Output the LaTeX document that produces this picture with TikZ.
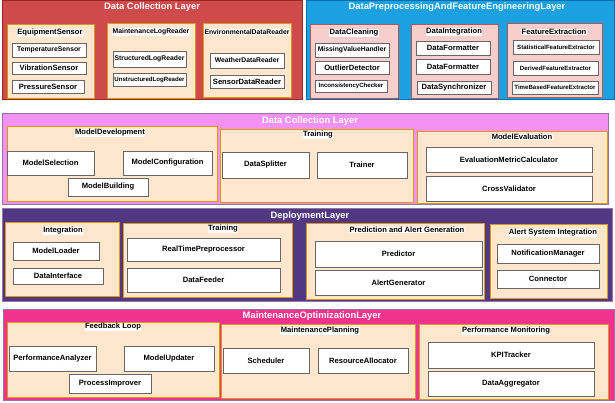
\documentclass[tikz,border=0pt]{standalone}
\usepackage{fontspec}
\setmainfont{Liberation Sans}
\usetikzlibrary{fit}

\definecolor{redfill}{RGB}{207,74,74}
\definecolor{redline}{RGB}{150,40,40}
\definecolor{bluefill}{RGB}{27,161,226}
\definecolor{blueline}{RGB}{0,110,175}
\definecolor{pinkfill}{RGB}{243,146,243}
\definecolor{violetline}{RGB}{150,115,166}
\definecolor{purplefill}{RGB}{82,55,130}
\definecolor{magentafill}{RGB}{240,52,142}
\definecolor{peachfill}{RGB}{255,230,204}
\definecolor{orangeline}{RGB}{215,155,0}
\definecolor{rosefill}{RGB}{248,206,204}
\definecolor{roseline}{RGB}{184,84,80}
\definecolor{boxline}{RGB}{102,102,102}

\tikzset{
  layer/.style={draw, line width=0.8pt, inner sep=0pt},
  layertitle/.style={text=white, inner sep=0pt, font=\bfseries\fontsize{8}{9}\selectfont},
  group/.style={draw=orangeline, fill=peachfill, line width=0.6pt, inner sep=0pt},
  rosegroup/.style={group, draw=roseline, fill=rosefill},
  grouptitle/.style={fill=white, inner sep=0.4pt, font=\bfseries\fontsize{6.5}{7}\selectfont},
  midtitle/.style={grouptitle, font=\bfseries\fontsize{5.8}{6.5}\selectfont},
  boxframe/.style={draw=boxline, fill=white, line width=0.7pt, inner sep=0pt},
  box/.style={boxframe, label={[font=\bfseries\fontsize{6.5}{7.5}\selectfont]center:#1}},
  midbox/.style={boxframe, label={[font=\bfseries\fontsize{5.8}{6.5}\selectfont]center:#1}},
  smallbox/.style={boxframe, label={[font=\bfseries\fontsize{5.2}{6}\selectfont]center:#1}}
}

\begin{document}
\begin{tikzpicture}[x=0.03cm, y=-0.03cm]

    \useasboundingbox (0,0) rectangle (615,403);

    % Layers
    \node[layer, fill=redfill, draw=redline, fit={(2,0.5) (302,99)}] (collect) {};
    \node[layer, fill=bluefill, draw=blueline, fit={(306,0.5) (614.5,99)}] (preprocess) {};
    \node[layer, fill=pinkfill, draw=violetline, fit={(2,113) (608,204)}] (modellayer) {};
    \node[layer, fill=purplefill, draw=violetline, fit={(2,208) (612,301)}] (deploy) {};
    \node[layer, fill=magentafill, draw=violetline, fit={(3,309) (614.5,400)}] (maintain) {};

    % Groups: data collection
    \node[group, fit={(7,24) (94,98)}] (eqsensor) {};
    \node[group, fit={(107,23) (195,98)}] (logreader) {};
    \node[group, fit={(203,23) (291,97)}] (envreader) {};

    % Groups: preprocessing
    \node[rosegroup, fit={(310,24) (398,98)}] (cleaning) {};
    \node[rosegroup, fit={(411,24) (498,98)}] (integration) {};
    \node[rosegroup, fit={(507,23) (602,97)}] (featextract) {};

    % Groups: model
    \node[group, fit={(7,126) (217,201)}] (modeldev) {};
    \node[group, fit={(220,129) (413,202)}] (training) {};
    \node[group, fit={(417,131) (607,203)}] (evaluation) {};

    % Groups: deployment
    \node[group, fit={(5,222) (119,296)}] (integrate) {};
    \node[group, fit={(123,223) (292,297)}] (deploytrain) {};
    \node[group, fit={(306,223) (484,299)}] (prediction) {};
    \node[group, fit={(490,224) (607,298)}] (alertsys) {};

    % Groups: maintenance
    \node[group, fit={(7,322) (219,397)}] (feedback) {};
    \node[group, fit={(221,324) (415,398)}] (planning) {};
    \node[group, fit={(419,324) (608,399)}] (monitoring) {};

    % Boxes
    \node[midbox=TemperatureSensor, fit={(12,43) (86,57)}] (tempsensor) {};
    \node[box=VibrationSensor, fit={(12,62) (86,74)}] (vibsensor) {};
    \node[box=PressureSensor, fit={(12,80) (84,93)}] (presssensor) {};
    \node[midbox=StructuredLogReader, fit={(113,51) (186,67)}] (structlog) {};
    \node[smallbox=UnstructuredLogReader, fit={(113,73) (186,86)}] (unstructlog) {};
    \node[midbox=WeatherDataReader, fit={(210,53) (284,68)}] (weather) {};
    \node[box=SensorDataReader, fit={(210,75) (284,88)}] (sensordata) {};

    \node[midbox=MissingValueHandler, fit={(315,43) (389,57)}] (missing) {};
    \node[box=OutlierDetector, fit={(315,61) (389,74)}] (outlier) {};
    \node[smallbox=InconsistencyChecker, fit={(315,80) (387,92)}] (inconsist) {};
    \node[box=DataFormatter, fit={(416,41) (490,55)}] (formattera) {};
    \node[box=DataFormatter, fit={(416,59) (490,74)}] (formatterb) {};
    \node[box=DataSynchronizer, fit={(417,81) (491,94)}] (synchronizer) {};
    \node[smallbox=StatisticalFeatureExtractor, fit={(513,40) (599,54)}] (statfeat) {};
    \node[smallbox=DerivedFeatureExtractor, fit={(513,61) (598,75)}] (derivedfeat) {};
    \node[smallbox=TimeBasedFeatureExtractor, fit={(512,81) (598,94)}] (timefeat) {};

    \node[box=ModelSelection, fit={(7,151) (94,175)}] (modelsel) {};
    \node[box=ModelConfiguration, fit={(123,151) (212,175)}] (modelconf) {};
    \node[box=ModelBuilding, fit={(68,178) (148,196)}] (modelbuild) {};
    \node[box=DataSplitter, fit={(222,152) (309,178)}] (splitter) {};
    \node[box=Trainer, fit={(317,152) (407,178)}] (trainer) {};
    \node[box=EvaluationMetricCalculator, fit={(426,147) (592,172)}] (metriccalc) {};
    \node[box=CrossValidator, fit={(426,176) (592,201)}] (crossval) {};

    \node[box=ModelLoader, fit={(13,242) (99,260)}] (loader) {};
    \node[box=DataInterface, fit={(13,268) (103,284)}] (datainterface) {};
    \node[box=RealTimePreprocessor, fit={(127,238) (280,261)}] (realtime) {};
    \node[box=DataFeeder, fit={(127,268) (280,292)}] (feeder) {};
    \node[box=Predictor, fit={(315,241) (482,267)}] (predictor) {};
    \node[box=AlertGenerator, fit={(315,270) (482,295)}] (alertgen) {};
    \node[box=NotificationManager, fit={(497,244) (599,263)}] (notify) {};
    \node[box=Connector, fit={(497,270) (599,288)}] (connector) {};

    \node[box=PerformanceAnalyzer, fit={(9,346) (96,371)}] (perfanalyzer) {};
    \node[box=ModelUpdater, fit={(124,346) (214,371)}] (updater) {};
    \node[box=ProcessImprover, fit={(69,374) (151,393)}] (improver) {};
    \node[box=Scheduler, fit={(223,348) (309,373)}] (scheduler) {};
    \node[box=ResourceAllocator, fit={(318,348) (408,373)}] (allocator) {};
    \node[box=KPITracker, fit={(428,342) (594,368)}] (kpi) {};
    \node[box=DataAggregator, fit={(428,371) (594,396)}] (aggregator) {};

    % Titles
    \node[layertitle] (collecttitle) at (152,7) {Data Collection Layer};
    \node[layertitle] (preprocesstitle) at (457,7) {DataPreprocessingAndFeatureEngineeringLayer};
    \node[layertitle] (modeltitle) at (310,121) {Data Collection Layer};
    \node[layertitle] (deploytitle) at (310,216) {DeploymentLayer};
    \node[layertitle] (maintaintitle) at (312,316) {MaintenanceOptimizationLayer};

    \node[grouptitle] (eqtitle) at (50,33) {EquipmentSensor};
    \node[midtitle] (logtitle) at (151,32) {MaintenanceLogReader};
    \node[midtitle] (envtitle) at (247,32) {EnvironmentalDataReader};
    \node[grouptitle] (cleantitle) at (354,33) {DataCleaning};
    \node[grouptitle] (integrationtitle) at (454,32) {DataIntegration};
    \node[grouptitle] (feattitle) at (554,32) {FeatureExtraction};
    \node[grouptitle] (devtitle) at (110,133) {ModelDevelopment};
    \node[grouptitle] (traintitle) at (318,135) {Training};
    \node[grouptitle] (evaltitle) at (522,137) {ModelEvaluation};
    \node[grouptitle] (integratetitle) at (63,231) {Integration};
    \node[grouptitle] (deploytraintitle) at (223,229) {Training};
    \node[grouptitle] (predtitle) at (407,230) {Prediction and Alert Generation};
    \node[grouptitle] (alerttitle) at (553,233) {Alert System Integration};
    \node[grouptitle] (feedbacktitle) at (113,327) {Feedback Loop};
    \node[grouptitle] (plantitle) at (320,331) {MaintenancePlanning};
    \node[grouptitle] (monitortitle) at (506,331) {Performance Monitoring};

\end{tikzpicture}
\end{document}
